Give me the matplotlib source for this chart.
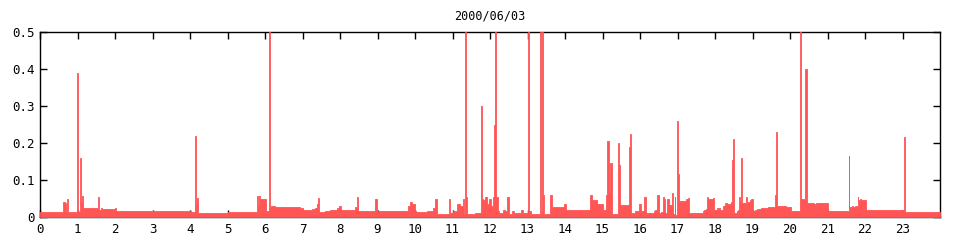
import matplotlib
matplotlib.use('Agg')
import matplotlib.pyplot as plt

# step data: start hour of each segment and its value
hours = [
    0.00, 0.62, 0.66, 0.68, 0.73, 0.75, 0.99, 1.01, 1.07, 1.08, 1.12, 1.15, 1.55, 1.56, 1.62, 1.65,
    2.00, 2.03, 4.02, 4.13, 4.16, 4.19, 4.21, 5.01, 5.79, 5.81, 5.84, 5.87, 6.02, 6.11, 6.13, 6.16,
    6.26, 6.36, 6.63, 6.76, 6.93, 6.96, 7.01, 7.24, 7.33, 7.38, 7.40, 7.43,
    7.60, 7.73, 7.82, 7.91, 7.97, 8.02, 8.41, 8.44, 8.47, 8.60, 8.65, 8.92, 8.98, 9.01, 9.24, 9.51,
    9.82, 9.87, 9.91, 10.00, 10.04, 10.31, 10.49, 10.53, 10.58, 10.76, 10.90, 10.92, 11.02, 11.11,
    11.20, 11.27, 11.31, 11.33, 11.36, 11.39, 11.60, 11.76, 11.79, 11.82, 11.87, 11.91, 11.98, 12.02,
    12.07, 12.11, 12.13, 12.16, 12.20, 12.24, 12.34, 12.40, 12.46, 12.50, 12.58, 12.65, 12.83, 12.89,
    13.02, 13.05, 13.08, 13.23, 13.33, 13.36, 13.39, 13.41, 13.44, 13.60, 13.64, 13.96, 14.03, 14.18,
    14.67, 14.71, 14.84, 15.00, 15.09, 15.13, 15.16, 15.20, 15.24, 15.40, 15.43, 15.47, 15.61, 15.70,
    15.73, 15.76, 15.87, 15.96,
    16.03, 16.11, 16.16, 16.36, 16.40, 16.46, 16.50, 16.55, 16.60, 16.64, 16.67, 16.73, 16.76, 16.85,
    16.88, 16.92, 16.94, 16.99, 17.01, 17.04, 17.23, 17.27, 17.31, 17.67, 17.71, 17.75, 17.78, 17.82,
    17.94, 17.97, 18.00, 18.06, 18.12, 18.22, 18.27, 18.31, 18.42, 18.45, 18.48, 18.51, 18.58, 18.60,
    18.64, 18.67, 18.69, 18.72, 18.83, 18.86, 18.92, 18.95, 19.00, 19.07, 19.13, 19.22, 19.42, 19.59,
    19.63, 19.65, 19.89, 20.03, 20.27, 20.29, 20.36, 20.41, 20.44, 20.64, 20.69, 21.00, 21.02, 21.56,
    21.58, 21.65, 21.69, 21.73, 21.80, 21.82, 21.87, 21.89, 22.03, 23.00, 23.04, 23.07, 24.00,
]
values = [
    0.014, 0.041, 0.037, 0.014, 0.05, 0.014, 0.39, 0.014, 0.16, 0.04, 0.058, 0.025, 0.055, 0.02, 0.024, 0.022,
    0.025, 0.017, 0.014, 0.22, 0.033, 0.052, 0.01, 0.014, 0.058, 0.03, 0.058, 0.05, 0.015, 0.5, 0.028, 0.03,
    0.028, 0.026, 0.028, 0.026, 0.022, 0.025, 0.02, 0.022, 0.025, 0.035, 0.052, 0.014,
    0.016, 0.018, 0.02, 0.025, 0.03, 0.02, 0.028, 0.055, 0.015, 0.017, 0.015, 0.05, 0.01, 0.015, 0.017, 0.015,
    0.03, 0.04, 0.035, 0.015, 0.013, 0.016, 0.025, 0.05, 0.007, 0.008, 0.05, 0.012, 0.015, 0.035,
    0.03, 0.05, 0.008, 0.5, 0.055, 0.007, 0.01, 0.3, 0.05, 0.045, 0.055, 0.035, 0.05, 0.03,
    0.055, 0.25, 0.5, 0.055, 0.015, 0.012, 0.02, 0.015, 0.055, 0.008, 0.015, 0.01, 0.02, 0.012,
    0.5, 0.015, 0.007, 0.008, 0.5, 0.01, 0.5, 0.06, 0.008, 0.06, 0.027, 0.035, 0.018, 0.02,
    0.06, 0.045, 0.035, 0.02, 0.06, 0.205, 0.065, 0.145, 0.008, 0.2, 0.14, 0.032, 0.033, 0.19,
    0.225, 0.01, 0.015, 0.035,
    0.015, 0.055, 0.012, 0.015, 0.018, 0.06, 0.012, 0.013, 0.055, 0.05, 0.012, 0.05, 0.032, 0.065,
    0.008, 0.055, 0.005, 0.26, 0.115, 0.043, 0.048, 0.052, 0.012, 0.015, 0.018, 0.022, 0.055, 0.048,
    0.052, 0.012, 0.02, 0.025, 0.02, 0.03, 0.038, 0.036, 0.04, 0.155, 0.21, 0.01, 0.015, 0.02,
    0.053, 0.04, 0.16, 0.038, 0.055, 0.04, 0.045, 0.05, 0.016, 0.02, 0.022, 0.025, 0.027, 0.06,
    0.23, 0.03, 0.028, 0.016, 0.5, 0.048, 0.045, 0.4, 0.038, 0.035, 0.038, 0.035, 0.016, 0.165,
    0.028, 0.03, 0.027, 0.03, 0.055, 0.045, 0.048, 0.046, 0.02, 0.016, 0.215, 0.013, 0.013,
]

x_ticks = list(range(24))
y_ticks = [0, 0.1, 0.2, 0.3, 0.4, 0.5]
y_tick_labels = ['0', '0.1', '0.2', '0.3', '0.4', '0.5']
title = '2000/06/03'

plt.rcParams['font.family'] = 'DejaVu Sans Mono'

fig = plt.figure(figsize=(9.6, 2.4), dpi=100)
ax = fig.add_axes([40 / 960, 1 - 217 / 240, 900 / 960, 185 / 240])

# fill sits on top of the frame and ticks, like the original gnuplot output
ax.fill_between(hours, values, step='post', color='#ff5555', linewidth=0.6,
                edgecolor='#ff5555', zorder=3, clip_on=False)

ax.set_xlim(0, 24)
ax.set_ylim(0, 0.5)
ax.set_xticks(x_ticks)
ax.set_xticklabels([str(t) for t in x_ticks])
ax.set_yticks(y_ticks)
ax.set_yticklabels(y_tick_labels)
ax.tick_params(direction='in', length=5, width=1, top=True, right=True,
               labelsize=9, pad=4)
for s in ax.spines.values():
    s.set_linewidth(1)
ax.set_title(title, fontsize=8.5, pad=9)

fig.savefig('out.png', dpi=100)
